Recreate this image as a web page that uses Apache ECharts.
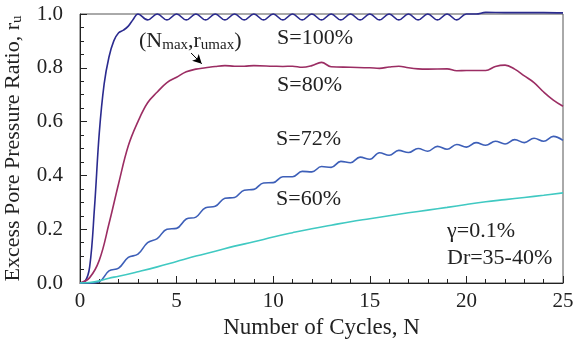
<!DOCTYPE html>
<html>
<head>
<meta charset="utf-8">
<script src="https://cdn.jsdelivr.net/npm/echarts@6/dist/echarts.min.js"></script>
<style>
  html, body { margin: 0; padding: 0; background: #fff; }
  #chart { width: 574px; height: 343px; }
</style>
</head>
<body>
<div id="chart"></div>
<script>
// values: [N, r_u]
var s100 = [
  [0, 0], [0.25, 0.005], [0.5, 0.06], [0.75, 0.28], [1, 0.56], [1.25, 0.74], [1.5, 0.84],
  [1.75, 0.9], [2, 0.93], [2.25, 0.94], [2.5, 0.955], [2.75, 0.98], [3, 1.0],
  [3.5, 0.978], [4, 1.0], [4.5, 0.978], [5, 1.0], [5.5, 0.978], [6, 1.0], [6.5, 0.978],
  [7, 1.0], [7.5, 0.978], [8, 1.0], [8.5, 0.978], [9, 1.0], [9.5, 0.978], [10, 1.0],
  [10.5, 0.978], [11, 1.0], [11.5, 0.978], [12, 1.0], [12.5, 0.978], [13, 1.0],
  [13.5, 0.978], [14, 1.0], [14.5, 0.978], [15, 1.0], [15.5, 0.978], [16, 1.0],
  [16.5, 0.978], [17, 1.0], [17.5, 0.978], [18, 1.0], [18.5, 0.978], [19, 1.0],
  [19.5, 0.978], [20, 1.0], [20.5, 1.0], [21, 1.006], [22, 1.005], [23, 1.005],
  [24, 1.005], [25, 1.004]
];
var s80 = [
  [0, 0], [0.5, 0.02], [1, 0.085], [1.5, 0.22], [2, 0.37], [2.5, 0.51], [3, 0.6],
  [3.5, 0.67], [4, 0.71], [4.5, 0.745], [5, 0.765], [5.5, 0.785], [6, 0.795], [6.5, 0.8],
  [7, 0.805], [7.5, 0.808], [8, 0.806], [8.5, 0.806], [9, 0.808], [10, 0.806],
  [10.5, 0.805], [11, 0.806], [11.5, 0.802], [12, 0.808], [12.5, 0.82], [13, 0.804],
  [14, 0.802], [15, 0.8], [15.5, 0.798], [16, 0.803], [16.5, 0.806], [17, 0.8],
  [17.5, 0.796], [18, 0.795], [19, 0.796], [19.5, 0.789], [20, 0.79], [21, 0.79],
  [21.5, 0.805], [22, 0.81], [22.5, 0.795], [23, 0.77], [23.5, 0.745], [24, 0.71],
  [24.5, 0.68], [25, 0.657]
];
var s72 = [
  [0, 0], [0.5, 0], [1, 0.005], [1.5, 0.045], [2, 0.055], [2.5, 0.095], [3, 0.107],
  [3.5, 0.15], [4, 0.165], [4.5, 0.2], [5, 0.203], [5.5, 0.238], [6, 0.245], [6.5, 0.28],
  [7, 0.285], [7.5, 0.315], [8, 0.318], [8.5, 0.345], [9, 0.348], [9.5, 0.372],
  [10, 0.373], [10.5, 0.395], [11, 0.395], [11.5, 0.415], [12, 0.413], [12.5, 0.433],
  [13, 0.43], [13.5, 0.452], [14, 0.447], [14.5, 0.468], [15, 0.46], [15.5, 0.484],
  [16, 0.475], [16.5, 0.493], [17, 0.485], [17.5, 0.5], [18, 0.49], [18.5, 0.508],
  [19, 0.497], [19.5, 0.515], [20, 0.505], [20.5, 0.522], [21, 0.512], [21.5, 0.527],
  [22, 0.517], [22.5, 0.533], [23, 0.522], [23.5, 0.538], [24, 0.527], [24.5, 0.545],
  [25, 0.53]
];
var s60 = [
  [0, 0], [0.5, 0.002], [1, 0.008], [1.5, 0.018], [2, 0.025], [3, 0.042], [4, 0.06],
  [5, 0.08], [6, 0.1], [7, 0.118], [8, 0.137], [9, 0.153], [10, 0.171], [11, 0.187],
  [12, 0.202], [13, 0.215], [14, 0.228], [15, 0.239], [16, 0.25], [17, 0.261],
  [18, 0.271], [19, 0.281], [20, 0.292], [21, 0.302], [22, 0.31], [23, 0.318],
  [24, 0.326], [25, 0.335]
];
var seriesNames = ['S=100%', 'S=80%', 'S=72%', 'S=60%'];
var seriesColors = ['#2B2B8F', '#9B2D63', '#3D5FB8', '#40C9C2'];
var xTicks = [0, 5, 10, 15, 20, 25];
var yTicks = [0.0, 0.2, 0.4, 0.6, 0.8, 1.0];

var font = '"Liberation Serif", "Times New Roman", serif';
var dom = document.getElementById('chart');
var myChart = echarts.init(dom);

function mkSeries(i, data) {
  return {
    name: seriesNames[i],
    type: 'line',
    data: data,
    smooth: 0.4,
    showSymbol: false,
    clip: false,
    lineStyle: { color: seriesColors[i], width: 1.6 },
    itemStyle: { color: seriesColors[i] },
    z: 5
  };
}

var series = [mkSeries(0, s100), mkSeries(1, s80), mkSeries(2, s72), mkSeries(3, s60)];
// arrow to (Nmax, rumax)
series[1].markLine = {
  silent: true,
  symbol: ['none', 'arrow'],
  symbolSize: [7, 9],
  label: { show: false },
  lineStyle: { color: '#000', width: 1, type: 'solid' },
  data: [[{ coord: [5.75, 0.855] }, { coord: [6.3, 0.815] }]]
};

var option = {
  animation: false,
  backgroundColor: '#fff',
  textStyle: { fontFamily: font },
  grid: {
    left: 80, right: 11, top: 14, bottom: 60,
    containLabel: false, outerBoundsMode: 'none',
    show: true, borderColor: '#555', borderWidth: 1
  },
  xAxis: {
    type: 'value', min: xTicks[0], max: xTicks[xTicks.length - 1], interval: 5,
    name: 'Number of Cycles, N',
    nameLocation: 'middle', nameGap: 33,
    nameTextStyle: { fontFamily: font, fontSize: 23, color: '#222' },
    axisLine: { lineStyle: { color: '#222', width: 1 } },
    axisTick: { inside: true, length: 7, lineStyle: { color: '#222' } },
    minorTick: { show: true, splitNumber: 5, length: 4, lineStyle: { color: '#222' } },
    axisLabel: { fontFamily: font, fontSize: 21, color: '#222', margin: 8 },
    splitLine: { show: false }
  },
  yAxis: {
    type: 'value', min: yTicks[0], max: yTicks[yTicks.length - 1], interval: 0.2,
    name: 'Excess Pore Pressure Ratio, r{sub|u}',
    nameLocation: 'middle', nameGap: 55, nameRotate: 90,
    nameTextStyle: {
      fontFamily: font, fontSize: 22, color: '#222',
      rich: { sub: { fontFamily: font, fontSize: 15, color: '#222', padding: [8, 0, 0, 0] } }
    },
    axisLine: { show: true, lineStyle: { color: '#222', width: 1 } },
    axisTick: { show: true, inside: true, length: 7, lineStyle: { color: '#222' } },
    minorTick: { show: true, splitNumber: 4, length: 4, lineStyle: { color: '#222' } },
    axisLabel: {
      fontFamily: font, fontSize: 21, color: '#222', margin: 17,
      formatter: function (v) { return v.toFixed(1); }
    },
    splitLine: { show: false }
  },
  graphic: [
    { type: 'text', left: 277, top: 27, style: { text: 'S=100%', font: '22px ' + font, fill: '#222' } },
    { type: 'text', left: 277, top: 74, style: { text: 'S=80%', font: '22px ' + font, fill: '#222' } },
    { type: 'text', left: 276, top: 128, style: { text: 'S=72%', font: '22px ' + font, fill: '#222' } },
    { type: 'text', left: 276, top: 188, style: { text: 'S=60%', font: '22px ' + font, fill: '#222' } },
    { type: 'text', left: 447, top: 220, style: { text: '\u03b3=0.1%', font: '22px ' + font, fill: '#222' } },
    { type: 'text', left: 447, top: 247, style: { text: 'Dr=35-40%', font: '22px ' + font, fill: '#222' } },
    {
      type: 'text', left: 139, top: 30,
      style: {
        text: '(N{s|max},r{s|umax})',
        font: '22px ' + font, fill: '#222',
        rich: { s: { fontFamily: font, fontSize: 15, fill: '#222', padding: [9, 0, 0, 0] } }
      }
    }
  ],
  series: series
};

if (option && typeof option === 'object') {
  myChart.setOption(option);
}
</script>
</body>
</html>
